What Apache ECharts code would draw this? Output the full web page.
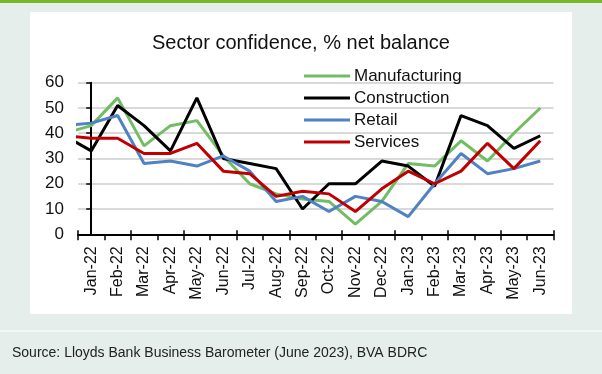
<!DOCTYPE html>
<html>
<head>
<meta charset="utf-8">
<script src="https://cdn.jsdelivr.net/npm/echarts@6/dist/echarts.min.js"></script>
<style>
html,body{margin:0;padding:0;background:#e5eeea;}
#chart{width:602px;height:374px;}
</style>
</head>
<body>
<div id="chart"></div>
<script>
// Month labels; the first (Dec-21) lies just left of the plot and is clipped
const months = ['Dec-21','Jan-22','Feb-22','Mar-22','Apr-22','May-22','Jun-22','Jul-22','Aug-22','Sep-22','Oct-22','Nov-22','Dec-22','Jan-23','Feb-23','Mar-23','Apr-23','May-23','Jun-23'];
const manufacturing = [40, 43, 54, 35, 43, 45, 31, 20, 16, 14, 13, 4, 13, 28, 27, 37, 29, 40, 50];
const construction  = [39, 33, 51, 43, 33, 54, 30, 28, 26, 10, 20, 20, 29, 27, 19, 47, 43, 34, 39];
const retail        = [43, 44, 47, 28, 29, 27, 31, 25, 13, 15, 9, 15, 13, 7, 20, 32, 24, 26, 29];
const services      = [39, 38, 38, 32, 32, 36, 25, 24, 15, 17, 16, 9, 18, 25, 20, 25, 36, 26, 37];
const yTicks = [0, 10, 20, 30, 40, 50, 60];

const shownMonths = months.slice(1);
function pairs(arr){ return arr.map((v, i) => [i - 1, v]); }

const chart = echarts.init(document.getElementById('chart'), null, {renderer:'canvas'});
const font = 'Arial, "Liberation Sans", sans-serif';
const mk = (name, data, color) => ({
  name, type:'line', data: pairs(data), xAxisIndex: 2, yAxisIndex: 0,
  showSymbol:false, symbol:'none', clip:true, animation:false,
  lineStyle:{color, width:3}, itemStyle:{color}
});

chart.setOption({
  animation:false,
  backgroundColor:'#e5eeea',
  graphic:[
    {type:'rect', shape:{x:0,y:0,width:602,height:3}, style:{fill:'#78b72a'}, z:-10},
    {type:'rect', shape:{x:30,y:12,width:542,height:302}, style:{fill:'#ffffff'}, z:-10},
    {type:'rect', shape:{x:0,y:330,width:602,height:2}, style:{fill:'#f3f7f5'}, z:-10},
    {type:'text', left:12, top:346, style:{text:'Source: Lloyds Bank Business Barometer (June 2023), BVA BDRC', font:'14px ' + font, fill:'#222'}}
  ],
  title:{
    text:'Sector confidence, % net balance', left:'center', top:28,
    textStyle:{fontFamily:font, fontSize:20, fontWeight:'normal', color:'#111'}
  },
  legend:{
    orient:'vertical', left:304, top:65, padding:0, itemGap:0,
    icon:'rect', itemWidth:46, itemHeight:3,
    textStyle:{fontFamily:font, fontSize:17, color:'#111', lineHeight:22, padding:[0,0,0,-1]},
    data:['Manufacturing','Construction','Retail','Services']
  },
  grid:{left:78, right:48.5, top:82.7, bottom:139.7, containLabel:false},
  xAxis:[
    {type:'category', position:'bottom', data:shownMonths, boundaryGap:true,
     axisLine:{lineStyle:{color:'#000', width:2}},
     axisTick:{show:true, length:6, inside:false, lineStyle:{color:'#000', width:1.5}},
     axisLabel:{rotate:90, margin:12, fontFamily:font, fontSize:16, color:'#111', interval:0},
     splitLine:{show:false}},
    {type:'category', position:'bottom', data:shownMonths, boundaryGap:true,
     axisLine:{show:false},
     axisTick:{show:true, length:4, inside:true, lineStyle:{color:'#000', width:1.5}},
     axisLabel:{show:false}, splitLine:{show:false}},
    {type:'value', position:'bottom', min:-0.5, max:17.5, show:false}
  ],
  yAxis:[{
    type:'value', min:yTicks[0], max:yTicks[yTicks.length-1], interval:10,
    axisLine:{show:true, lineStyle:{color:'#000', width:2}},
    axisTick:{show:true, length:5, lineStyle:{color:'#000', width:1.5}},
    axisLabel:{margin:14, fontFamily:font, fontSize:17, color:'#111'},
    splitLine:{show:true, lineStyle:{color:'#d9d9d9', width:2}}
  }],
  series:[
    mk('Manufacturing', manufacturing, '#72bd64'),
    mk('Construction', construction, '#000000'),
    mk('Retail', retail, '#4f81c4'),
    mk('Services', services, '#c00000')
  ]
});
</script>
</body>
</html>
